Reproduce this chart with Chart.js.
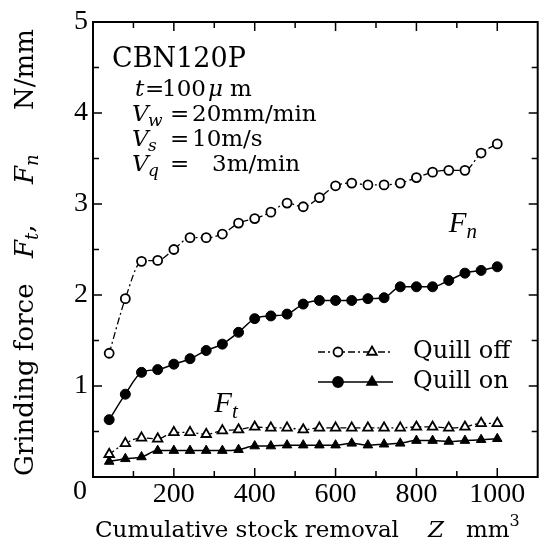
<!DOCTYPE html>
<html><head><meta charset="utf-8">
<script src="https://cdn.jsdelivr.net/npm/chart.js@4/dist/chart.umd.min.js"></script>
<style>html,body{margin:0;padding:0;background:#fff}</style>
</head><body>
<canvas id="c" width="545" height="554"></canvas>
<script>
// ---- data ----
const stockRemoval = [40,80,120,160,200,240,280,320,360,400,440,480,520,560,600,640,680,720,760,800,840,880,920,960,1000];
const fnQuillOff = [1.36,1.96,2.37,2.38,2.50,2.63,2.63,2.67,2.79,2.84,2.91,3.01,2.97,3.07,3.20,3.23,3.21,3.21,3.23,3.29,3.35,3.37,3.37,3.56,3.66];
const fnQuillOn  = [0.63,0.91,1.15,1.18,1.24,1.30,1.39,1.46,1.59,1.74,1.77,1.79,1.90,1.94,1.94,1.94,1.96,1.97,2.09,2.09,2.09,2.16,2.24,2.27,2.31];
const ftQuillOff = [0.25,0.37,0.43,0.42,0.49,0.49,0.47,0.51,0.52,0.55,0.54,0.54,0.52,0.54,0.54,0.54,0.54,0.54,0.54,0.55,0.55,0.54,0.55,0.59,0.59];
const ftQuillOn  = [0.17,0.20,0.22,0.29,0.29,0.29,0.29,0.29,0.30,0.34,0.34,0.35,0.35,0.35,0.35,0.37,0.35,0.36,0.37,0.40,0.40,0.39,0.40,0.41,0.42];
const xTickLabels = ['200','400','600','800','1000'];
const xCornerLabel = '0';
const yTickLabels = ['1','2','3','4','5'];
const legendLabels = ['Quill off','Quill on'];
const conditionTitle = 'CBN120P';

const SERIF = "'DejaVu Serif','Liberation Serif',serif";
const TSERIF = "'Liberation Serif','Times New Roman',serif";
const pts = arr => arr.map((v,i)=>({x:stockRemoval[i], y:v}));

function drawRuns(ctx, x, y, runs){
  for(const r of runs){
    if(r.at!=null) x = r.at;
    ctx.font = r.f;
    ctx.fillText(r.t, x, y + (r.dy||0));
    x += ctx.measureText(r.t).width + (r.gap||0);
  }
  return x;
}
const up = s => `${s}px ${SERIF}`;
const it = s => `italic ${s}px ${SERIF}`;
const tit = s => `italic ${s}px ${TSERIF}`;

function marker(ctx, style, filled, r, x, y){
  ctx.save();
  ctx.fillStyle = filled ? '#000' : '#fff';
  ctx.strokeStyle = '#000';
  ctx.lineWidth = 1.8;
  ctx.setLineDash([]);
  Chart.helpers.drawPoint(ctx, {pointStyle:style, radius:r, rotation:0, borderWidth:1.8}, x, y);
  ctx.restore();
}

const decor = {
  id:'decor',
  afterDraw(chart){
    const {ctx, chartArea:a, scales:{x, y}} = chart;
    ctx.save();
    // frame
    ctx.strokeStyle = '#000'; ctx.lineWidth = 2;
    ctx.strokeRect(a.left, a.top, a.right-a.left, a.bottom-a.top);
    // inward ticks
    ctx.lineWidth = 1.5;
    ctx.beginPath();
    x.ticks.forEach(t=>{
      if(t.value<=x.min || t.value>=x.max) return;
      const p = x.getPixelForValue(t.value);
      const L = (t.value % 200 === 0) ? 9 : 6;
      ctx.moveTo(p, a.bottom); ctx.lineTo(p, a.bottom-L);
      ctx.moveTo(p, a.top); ctx.lineTo(p, a.top+L);
    });
    y.ticks.forEach(t=>{
      if(t.value<=y.min || t.value>=y.max) return;
      const p = y.getPixelForValue(t.value);
      const L = Number.isInteger(t.value) ? 9 : 6;
      ctx.moveTo(a.left, p); ctx.lineTo(a.left+L, p);
      ctx.moveTo(a.right, p); ctx.lineTo(a.right-L, p);
    });
    ctx.stroke();

    ctx.fillStyle = '#000';
    ctx.textAlign = 'left'; ctx.textBaseline = 'alphabetic';
    // condition block
    const L0 = a.left;
    ctx.font = up(27);
    ctx.fillText(conditionTitle, L0+19, a.top+45);
    drawRuns(ctx, 0, a.top+74, [
      {t:'t', f:it(23), at:L0+42},
      {t:'=', f:up(23), at:L0+52},
      {t:'100', f:up(23), at:L0+69},
      {t:'\u03bc', f:it(23), at:L0+115},
      {t:'m', f:up(23), at:L0+137}
    ]);
    const vl = [['w','20mm/min',0],['s','10m/s',0],['q','3m/min',20]];
    vl.forEach((v,i)=>{
      const by = a.top + 99 + i*25;
      drawRuns(ctx, 0, by, [
        {t:'V', f:it(23), at:L0+39},
        {t:v[0], f:it(17), dy:5, at:L0+55},
        {t:'=', f:up(23), at:L0+77},
        {t:v[1], f:up(23), at:L0+99+v[2]}
      ]);
    });
    // series labels
    drawRuns(ctx, x.getPixelForValue(880), y.getPixelForValue(2.69), [
      {t:'F', f:tit(29)}, {t:'n', f:tit(21), dy:6}
    ]);
    drawRuns(ctx, x.getPixelForValue(300), y.getPixelForValue(0.71), [
      {t:'F', f:tit(29)}, {t:'t', f:tit(21), dy:6}
    ]);
    // legend
    const lx0 = 318, lx1 = 393, rows = [352, 382];
    rows.forEach((ry,i)=>{
      ctx.save();
      ctx.strokeStyle='#000'; ctx.lineWidth=1.4;
      ctx.setLineDash(i===0 ? [7,3,2,3] : []);
      ctx.beginPath(); ctx.moveTo(lx0, ry); ctx.lineTo(lx1, ry); ctx.stroke();
      ctx.restore();
      marker(ctx, 'circle', i===1, i===1?5:4.5, 338, ry);
      marker(ctx, 'triangle', i===1, 5.5, 372, ry);
      ctx.font = up(24); ctx.textBaseline='middle'; ctx.fillStyle='#000';
      ctx.fillText(legendLabels[i], 413, ry);
    });
    // corner zero label
    ctx.textAlign='center'; ctx.textBaseline='middle';
    ctx.font = `28px ${TSERIF}`;
    ctx.fillText(xCornerLabel, a.left-13, a.bottom+15);
    // x title
    ctx.textAlign='left'; ctx.textBaseline='alphabetic';
    drawRuns(ctx, 95, 537, [
      {t:'Cumulative stock removal', f:up(23)},
      {t:'Z', f:it(23), at:428},
      {t:'mm', f:up(23), at:466},
      {t:'3', f:up(16), dy:-11}
    ]);
    // y title (rotated)
    ctx.save();
    ctx.translate(33, 476);
    ctx.rotate(-Math.PI/2);
    drawRuns(ctx, 0, 0, [
      {t:'Grinding force', f:up(26)},
      {t:'F', f:it(26), at:218},
      {t:'t', f:it(18), dy:5},
      {t:',', f:up(26)},
      {t:'F', f:it(26), at:292},
      {t:'n', f:it(18), dy:5},
      {t:'N/mm', f:up(26), at:366}
    ]);
    ctx.restore();
    ctx.restore();
  }
};

new Chart(document.getElementById('c'), {
  type:'line',
  data:{datasets:[
    {label:'Fn quill off', data:pts(fnQuillOff), borderColor:'#000', borderWidth:1.3, borderDash:[7,3,2,3],
     pointStyle:'circle', pointRadius:4.5, pointBorderWidth:1.8, pointBackgroundColor:'#fff', pointBorderColor:'#000', cubicInterpolationMode:'monotone'},
    {label:'Fn quill on', data:pts(fnQuillOn), borderColor:'#000', borderWidth:1.5,
     pointStyle:'circle', pointRadius:5, pointBorderWidth:1, pointBackgroundColor:'#000', pointBorderColor:'#000', cubicInterpolationMode:'monotone'},
    {label:'Ft quill off', data:pts(ftQuillOff), borderColor:'#000', borderWidth:1.3, borderDash:[6,3,2,3],
     pointStyle:'triangle', pointRadius:5.5, pointBorderWidth:1.8, pointBackgroundColor:'#fff', pointBorderColor:'#000', cubicInterpolationMode:'monotone'},
    {label:'Ft quill on', data:pts(ftQuillOn), borderColor:'#000', borderWidth:1.5,
     pointStyle:'triangle', pointRadius:5.5, pointBorderWidth:1, pointBackgroundColor:'#000', pointBorderColor:'#000', cubicInterpolationMode:'monotone'}
  ]},
  options:{
    responsive:false, animation:false, devicePixelRatio:1,
    layout:{padding:{left:0, right:3, top:22, bottom:0}},
    plugins:{legend:{display:false}, tooltip:{enabled:false}},
    scales:{
      x:{type:'linear', min:0, max:1100,
         afterFit(s){ s.height = 77; },
         grid:{display:false, drawTicks:false}, border:{display:false},
         ticks:{stepSize:100, autoSkip:false, maxRotation:0, padding:1, color:'#000',
                font:{family:TSERIF, size:28},
                callback:v => xTickLabels.includes(String(v)) ? String(v) : ''}},
      y:{type:'linear', min:0, max:5,
         afterFit(s){ s.width = 93; },
         grid:{display:false, drawTicks:false}, border:{display:false},
         ticks:{stepSize:0.5, autoSkip:false, padding:5, color:'#000',
                font:{family:TSERIF, size:28},
                callback:v => yTickLabels.includes(String(v)) ? String(v) : ''}}
    }
  },
  plugins:[decor]
});
</script>
</body></html>
